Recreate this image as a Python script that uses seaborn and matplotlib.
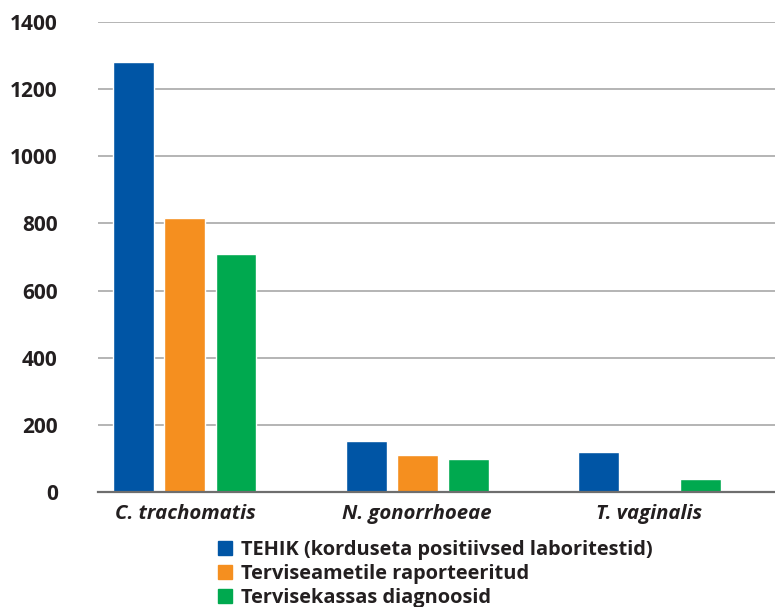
import pandas as pd
import matplotlib.pyplot as plt
import seaborn as sns

# --- data ---
categories = ["C. trachomatis", "N. gonorrhoeae", "T. vaginalis"]
series_names = [
    "TEHIK (korduseta positiivsed laboritestid)",
    "Terviseametile raporteeritud",
    "Tervisekassas diagnoosid",
]
tehik = [1280, 151, 118]
terviseamet = [815, 110, 0]
tervisekassa = [708, 97, 38]
y_ticks = [0, 200, 400, 600, 800, 1000, 1200, 1400]

colors = ["#0055A5", "#F58F1F", "#00A94F"]

df = pd.DataFrame({
    "Haigus": categories * 3,
    "Allikas": [series_names[0]] * 3 + [series_names[1]] * 3 + [series_names[2]] * 3,
    "Arv": tehik + terviseamet + tervisekassa,
})

sns.set_theme(style="white")
plt.rcParams["font.family"] = ["Open Sans", "DejaVu Sans"]

fig = plt.figure(figsize=(7.75, 6.07), dpi=100)
ax = fig.add_axes([0.1265, 0.1895, 0.8735, 0.7743])

sns.barplot(
    data=df, x="Haigus", y="Arv", hue="Allikas",
    hue_order=series_names, palette=colors,
    width=0.66, gap=0.2, saturation=1,
    ax=ax, legend=False,
)

ax.set_ylim(0, 1400)
ax.set_xlim(-0.374, 2.54)
ax.set_yticks(y_ticks)
ax.yaxis.grid(True, color="#a8a8a8", linewidth=1.2)
ax.set_axisbelow(True)
for s in ["top", "right", "left"]:
    ax.spines[s].set_visible(False)
ax.spines["bottom"].set_color("#6e6e6e")
ax.spines["bottom"].set_linewidth(1.6)
ax.set_xlabel("")
ax.set_ylabel("")
ax.tick_params(axis="y", length=0, pad=29, labelsize=15, labelcolor="#231f20")
ax.tick_params(axis="x", length=0, pad=8.5, labelsize=14.7, labelcolor="#231f20")
for lab in ax.get_yticklabels():
    lab.set_fontweight("bold")
for lab in ax.get_xticklabels():
    lab.set_fontweight("bold")
    lab.set_fontstyle("italic")

handles = [plt.Rectangle((0, 0), 1, 1, color=c) for c in colors]
leg = fig.legend(
    handles, series_names, loc="upper left",
    bbox_to_anchor=(0.281, 0.111), frameon=False,
    handlelength=0.7, handleheight=0.7, handletextpad=0.45,
    labelspacing=0.22, borderpad=0, borderaxespad=0,
    prop={"weight": "bold", "size": 14.4},
)
for t in leg.get_texts():
    t.set_color("#231f20")

fig.savefig("out.png", dpi=100)
